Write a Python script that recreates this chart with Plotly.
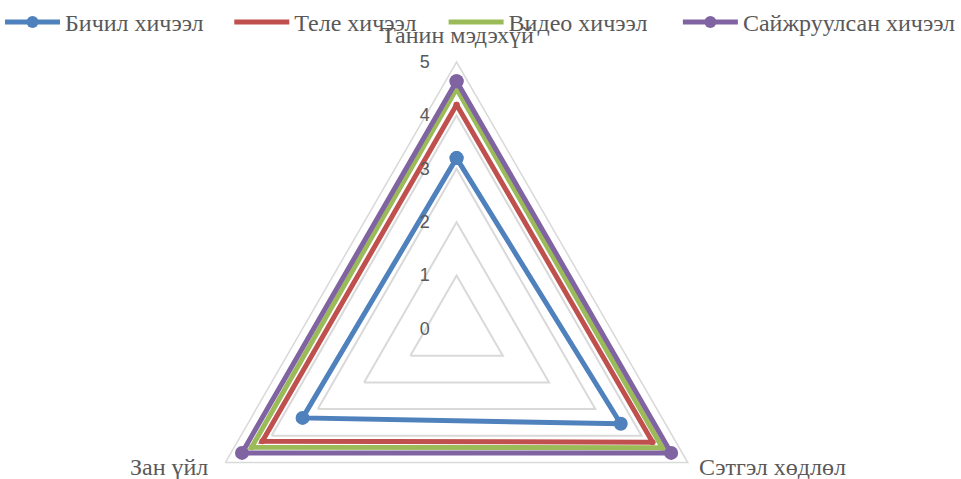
import plotly.graph_objects as go

categories = ["Танин мэдэхүй", "Сэтгэл хөдлөл", "Зан үйл"]
series_names = ["Бичил хичээл", "Теле хичээл", "Видео хичээл", "Сайжруулсан хичээл"]
bichil = [3.2, 3.55, 3.33]
tele = [4.2, 4.24, 4.2]
video = [4.5, 4.45, 4.43]
saijruulsan = [4.64, 4.64, 4.64]
radial_ticks = [0, 1, 2, 3, 4, 5]

colors = ["#4F81BD", "#C0504D", "#9BBB59", "#8064A2"]
marker_sizes = [14, 0, 0, 14]
all_values = [bichil, tele, video, saijruulsan]

W, H = 961, 600
mt, mb, ml, mr = 60, 4, 0, 0
ph = H - mt - mb


def px_x(x):
    return x / W


def px_y(y):
    return (H - mb - y) / ph


legend_ids = ["legend", "legend2", "legend3", "legend4"]
legend_px = [0, 230, 445, 680]

fig = go.Figure()
for name, vals, col, ms, lid in zip(series_names, all_values, colors, marker_sizes, legend_ids):
    fig.add_trace(go.Scatterpolar(
        r=vals + vals[:1],
        theta=categories + categories[:1],
        name=name,
        mode="lines+markers",
        line=dict(color=col, width=5),
        marker=dict(color=col, size=ms),
        legend=lid,
    ))

label_font = dict(family="Liberation Serif", size=24, color="#595959")
label_pos = [(459, 33), (775, 467), (170, 467)]
for cat, (lx, ly) in zip(categories, label_pos):
    fig.add_annotation(
        text=cat, x=px_x(lx), y=px_y(ly), xref="paper", yref="paper",
        xanchor="center", yanchor="middle", showarrow=False, font=label_font,
        borderpad=0,
    )

legend_common = dict(
    orientation="h",
    xanchor="left",
    y=px_y(20), yanchor="middle",
    font=dict(family="Liberation Serif", size=24, color="#595959"),
    itemsizing="constant",
    itemwidth=55,
    bgcolor="rgba(0,0,0,0)",
)
legend_layout = {lid: dict(x=px_x(lx), **legend_common) for lid, lx in zip(legend_ids, legend_px)}

fig.update_layout(
    width=W, height=H,
    margin=dict(t=mt, b=mb, l=ml, r=mr),
    paper_bgcolor="white",
    plot_bgcolor="white",
    showlegend=True,
    **legend_layout,
    polar=dict(
        domain=dict(x=[0, 916 / W], y=[0, 1]),
        bgcolor="white",
        gridshape="linear",
        radialaxis=dict(
            range=[0, 5],
            tickvals=radial_ticks,
            ticktext=[str(v) for v in radial_ticks],
            showline=False,
            gridcolor="#d9d9d9",
            gridwidth=1.5,
            angle=90,
            tickangle=90,
            side="counterclockwise",
            ticks="outside",
            ticklen=20,
            tickcolor="rgba(0,0,0,0)",
            tickfont=dict(family="Liberation Sans", size=18, color="#595959"),
        ),
        angularaxis=dict(
            direction="clockwise",
            rotation=90,
            showgrid=False,
            showline=True,
            showticklabels=False,
            linecolor="#d9d9d9",
            linewidth=1.5,
            ticks="",
        ),
    ),
)

fig.write_html(
    "out.html",
    config={"displayModeBar": False},
    post_script="document.body.style.margin='0';document.body.style.overflow='hidden';document.documentElement.style.overflow='hidden';",
)
